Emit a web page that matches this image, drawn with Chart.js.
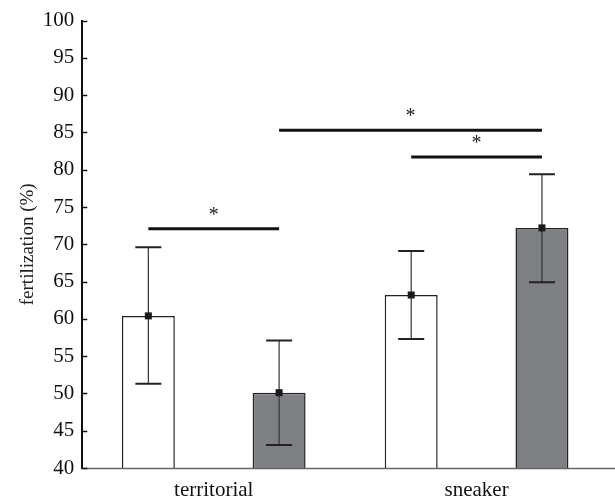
<!DOCTYPE html>
<html>
<head>
<meta charset="utf-8">
<script src="https://cdn.jsdelivr.net/npm/chart.js@4/dist/chart.umd.min.js"></script>
<style>
  html, body { margin: 0; padding: 0; background: #fff; }
  #wrap { width: 615px; height: 502px; }
</style>
</head>
<body>
<div id="wrap"><canvas id="myChart"></canvas></div>
<script>
// data
const categories = ['territorial', 'sneaker'];
const whiteMeans = [60.4, 63.2];
const whiteHigh  = [69.6, 69.1];
const whiteLow   = [51.3, 57.3];
const greyMeans  = [50.1, 72.2];
const greyHigh   = [57.1, 79.4];
const greyLow    = [43.1, 64.9];
// significance bars: [dataset, category] -> [dataset, category], height
const sigFrom = [[0, 0], [1, 0], [0, 1]];
const sigTo   = [[1, 0], [1, 1], [1, 1]];
const sigY    = [72.1, 85.3, 81.7];

const highs = [whiteHigh, greyHigh];
const lows = [whiteLow, greyLow];
const means = [whiteMeans, greyMeans];

const serif = '"Liberation Serif", "DejaVu Serif", serif';

const extras = {
  id: 'extras',
  afterDatasetsDraw(chart) {
    const ctx = chart.ctx;
    const y = chart.scales.y;
    const area = chart.chartArea;
    ctx.save();
    // bottom axis line, runs to the edge
    ctx.strokeStyle = '#666';
    ctx.lineWidth = 1.5;
    ctx.beginPath();
    ctx.moveTo(area.left, area.bottom + 0.5);
    ctx.lineTo(chart.width, area.bottom + 0.5);
    ctx.stroke();
    // inward ticks on y axis
    ctx.strokeStyle = '#111';
    ctx.lineWidth = 1.5;
    for (let v = 40; v <= 100; v += 5) {
      const py = Math.round(y.getPixelForValue(v)) + 0.5;
      ctx.beginPath();
      ctx.moveTo(area.left, py);
      ctx.lineTo(area.left + 5, py);
      ctx.stroke();
    }
    // error bars + mean markers
    for (let d = 0; d < 2; d++) {
      const meta = chart.getDatasetMeta(d);
      meta.data.forEach((bar, i) => {
        const x = bar.x;
        const top = y.getPixelForValue(highs[d][i]);
        const bot = y.getPixelForValue(lows[d][i]);
        ctx.strokeStyle = '#333';
        ctx.lineWidth = 1.2;
        ctx.beginPath();
        ctx.moveTo(x, top);
        ctx.lineTo(x, bot);
        ctx.stroke();
        ctx.strokeStyle = '#222';
        ctx.lineWidth = 2;
        ctx.beginPath();
        ctx.moveTo(x - 13, top); ctx.lineTo(x + 13, top);
        ctx.moveTo(x - 13, bot); ctx.lineTo(x + 13, bot);
        ctx.stroke();
        const my = y.getPixelForValue(means[d][i]);
        ctx.fillStyle = '#1a1a1a';
        ctx.fillRect(x - 3.5, my - 3.5, 7, 7);
      });
    }
    // significance lines
    ctx.strokeStyle = '#111';
    ctx.lineWidth = 3;
    ctx.fillStyle = '#222';
    ctx.font = '20px ' + serif;
    ctx.textAlign = 'center';
    ctx.textBaseline = 'middle';
    for (let k = 0; k < sigY.length; k++) {
      const x1 = chart.getDatasetMeta(sigFrom[k][0]).data[sigFrom[k][1]].x;
      const x2 = chart.getDatasetMeta(sigTo[k][0]).data[sigTo[k][1]].x;
      const py = y.getPixelForValue(sigY[k]);
      ctx.beginPath();
      ctx.moveTo(x1, py);
      ctx.lineTo(x2, py);
      ctx.stroke();
      ctx.fillText('*', (x1 + x2) / 2, py - 13);
    }
    ctx.restore();
  }
};

const ctx = document.getElementById('myChart');
const myChart = new Chart(ctx, {
  type: 'bar',
  data: {
    labels: categories,
    datasets: [{
      data: whiteMeans,
      backgroundColor: '#ffffff',
      borderColor: '#222',
      borderWidth: 1.5
    }, {
      data: greyMeans,
      backgroundColor: '#7f8084',
      borderColor: '#222',
      borderWidth: 1.5
    }]
  },
  options: {
    responsive: true,
    maintainAspectRatio: false,
    animation: false,
    layout: { padding: { top: 20, right: 7, left: 13, bottom: 0 } },
    plugins: { legend: { display: false }, tooltip: { enabled: false } },
    datasets: { bar: { categoryPercentage: 0.995, barPercentage: 0.405 } },
    scales: {
      x: {
        grid: { display: false, drawTicks: false },
        border: { display: false },
        ticks: { color: '#111', font: { family: serif, size: 21, lineHeight: 1 }, padding: 12 },
        afterFit(scale) { scale.height = 34; }
      },
      y: {
        min: 40,
        max: 100,
        grid: { display: false, drawTicks: false },
        border: { color: '#111', width: 2 },
        ticks: { stepSize: 5, color: '#111', font: { family: serif, size: 21 }, padding: 8 },
        title: { display: true, text: 'fertilization (%)', color: '#222', font: { family: serif, size: 19 }, padding: { top: 4, bottom: -5 } }
      }
    }
  },
  plugins: [extras]
});
</script>
</body>
</html>
